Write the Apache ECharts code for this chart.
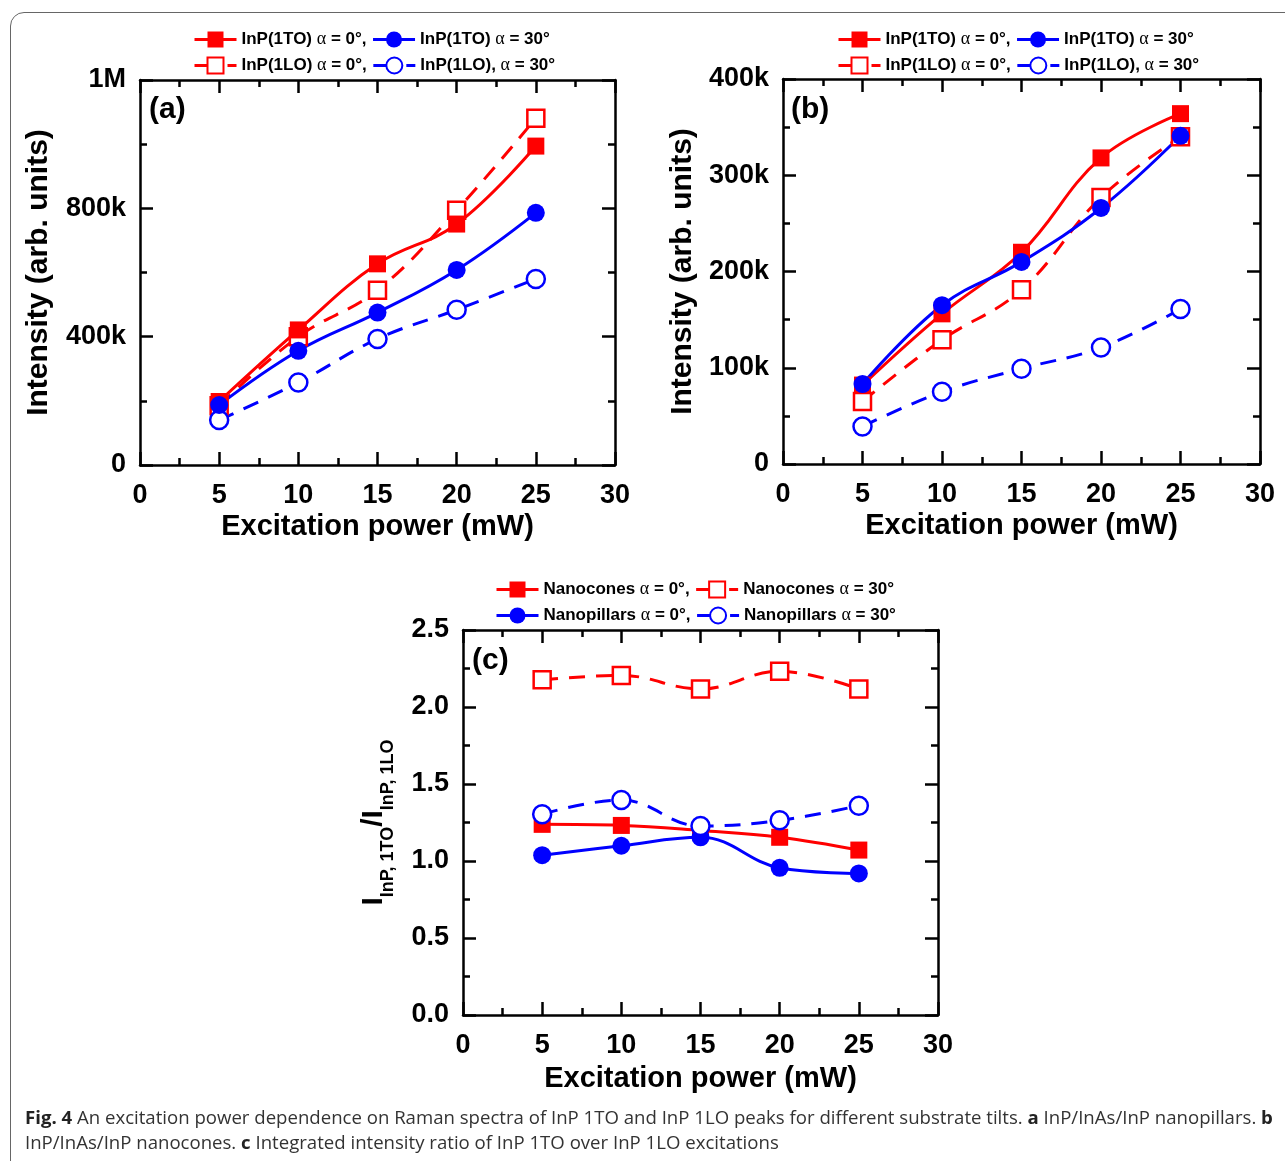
<!DOCTYPE html>
<html><head><meta charset="utf-8">
<script src="https://cdn.jsdelivr.net/npm/echarts@6/dist/echarts.min.js"></script>
<style>
html,body{margin:0;padding:0;background:#fff;}
#frame{position:absolute;left:10px;top:12px;width:1300px;height:1200px;border:1.5px solid #666;border-radius:14px;box-sizing:border-box;}
#chart{position:absolute;left:0;top:0;width:1285px;height:1161px;}
</style></head><body>
<div id="frame"></div>
<div id="chart"></div>
<script>
// ---------- data ----------
const power = [5, 10, 15, 20, 25];
// (a) InP/InAs/InP nanopillars
const a_TO_0  = [198000, 421000, 627000, 751000, 994000];
const a_LO_0  = [185000, 400000, 545000, 794000, 1081000];
const a_TO_30 = [187000, 356000, 475000, 608000, 786000];
const a_LO_30 = [140000, 257000, 393000, 484000, 580000];
// (b) InP/InAs/InP nanocones
const b_TO_0  = [82000, 156000, 220000, 318000, 364000];
const b_LO_0  = [65000, 129000, 181000, 277000, 340000];
const b_TO_30 = [83000, 165000, 210000, 266000, 341000];
const b_LO_30 = [39000, 75000, 99000, 121000, 161000];
// (c) ratio I(1TO)/I(1LO)
const c_cones_0  = [1.238, 1.231, 1.198, 1.154, 1.071];
const c_cones_30 = [2.177, 2.205, 2.117, 2.232, 2.117];
const c_pill_0   = [1.038, 1.099, 1.154, 0.956, 0.919];
const c_pill_30  = [1.304, 1.396, 1.227, 1.264, 1.359];

// tick labels
const xTicks = [0, 5, 10, 15, 20, 25, 30];
const xTickLabels = ['0', '5', '10', '15', '20', '25', '30'];
const yTicksA = [0, 400000, 800000, 1200000];
const yTickLabelsA = ['0', '400k', '800k', '1M'];
const yTicksB = [0, 100000, 200000, 300000, 400000];
const yTickLabelsB = ['0', '100k', '200k', '300k', '400k'];
const yTicksC = [0, 0.5, 1.0, 1.5, 2.0, 2.5];
const yTickLabelsC = ['0.0', '0.5', '1.0', '1.5', '2.0', '2.5'];

// legend names
const namesAB = ['InP(1TO) α = 0°,', 'InP(1TO) α = 30°', 'InP(1LO) α = 0°,', 'InP(1LO), α = 30°'];
const namesC = ['Nanocones α = 0°,', 'Nanocones α = 30°', 'Nanopillars α = 0°,', 'Nanopillars α = 30°'];
const dashedAB = [false, false, true, true];
const dashedC = [false, true, false, true];

// ---------- styling ----------
const FONT = '"Liberation Sans", Arial, sans-serif';
const RED = '#ff0000', BLUE = '#0000ff';
const AX_W = 2.5;

function lookup(ticks, labels) {
  return function (v) {
    for (let i = 0; i < ticks.length; i++) if (Math.abs(ticks[i] - v) < 1e-9 * Math.max(1, Math.abs(v))) return labels[i];
    return '';
  };
}

function xAxes(g, nameGap) {
  const common = {
    gridIndex: g, type: 'value', min: 0, max: 30, interval: 5,
    axisLine: { onZero: false, lineStyle: { color: '#000', width: AX_W } },
    axisTick: { inside: true, length: 13, lineStyle: { color: '#000', width: AX_W } },
    minorTick: { show: true, splitNumber: 2, length: 7, lineStyle: { color: '#000', width: AX_W } },
    splitLine: { show: false }
  };
  return [
    Object.assign({}, common, {
      position: 'bottom',
      axisLabel: { show: true, margin: 17, color: '#000', fontSize: 27, fontWeight: 'bold', fontFamily: FONT,
        showMinLabel: true, showMaxLabel: true, formatter: lookup(xTicks, xTickLabels) },
      name: 'Excitation power (mW)', nameLocation: 'middle', nameGap: nameGap,
      nameTextStyle: { color: '#000', fontSize: 29, fontWeight: 'bold', fontFamily: FONT }
    }),
    Object.assign({}, common, { position: 'top', axisLabel: { show: false } })
  ];
}

function yAxes(g, max, interval, ticks, labels, name, nameGap, nameStyle) {
  const common = {
    gridIndex: g, type: 'value', min: 0, max: max, interval: interval,
    axisLine: { onZero: false, lineStyle: { color: '#000', width: AX_W } },
    axisTick: { inside: true, length: 13, lineStyle: { color: '#000', width: AX_W } },
    minorTick: { show: true, splitNumber: 2, length: 7, lineStyle: { color: '#000', width: AX_W } },
    splitLine: { show: false }
  };
  return [
    Object.assign({}, common, {
      position: 'left',
      axisLabel: { show: true, margin: 14, color: '#000', fontSize: 27, fontWeight: 'bold', fontFamily: FONT,
        showMinLabel: true, showMaxLabel: true, formatter: lookup(ticks, labels) },
      name: name, nameLocation: 'middle', nameGap: nameGap, nameRotate: 90,
      nameTextStyle: nameStyle
    }),
    Object.assign({}, common, { position: 'right', axisLabel: { show: false } })
  ];
}

function line(name, values, color, filled, symbol, dashed, axisIdx) {
  return {
    type: 'line', name: name,
    xAxisIndex: axisIdx, yAxisIndex: axisIdx,
    data: power.map((x, i) => [x, values[i]]),
    symbol: symbol, symbolSize: symbol === 'circle' ? 18 : 17,
    smooth: 0.4,
    lineStyle: { color: color, width: 3, type: dashed ? [16, 11] : 'solid' },
    itemStyle: { color: filled ? color : '#ffffff', borderColor: color, borderWidth: filled ? 0 : 2.5 },
    emphasis: { disabled: true },
    animation: false
  };
}

function legendItem(name, dashed) {
  return { name: name, lineStyle: { width: 3, type: dashed ? [29, 4, 9, 0] : 'solid' } };
}

function legend(names, dashed, left, top) {
  return {
    left: left, top: top, padding: 0, orient: 'horizontal',
    itemWidth: 42, itemHeight: 20, itemGap: 5,
    data: [legendItem(names[0], dashed[0]), legendItem(names[1], dashed[1]), '\n',
           legendItem(names[2], dashed[2]), legendItem(names[3], dashed[3])],
    textStyle: { color: '#000', fontSize: 17, fontWeight: 'bold', fontFamily: FONT, lineHeight: 21,
      rich: { g: { fontSize: 18, fontWeight: 'normal', fontFamily: '"Liberation Serif", "DejaVu Serif", serif', lineHeight: 21, color: '#000' } } },
    formatter: n => n.replace('α', '{g|α}'),
    selectedMode: false
  };
}

const yNameStyle = { color: '#000', fontSize: 30, fontWeight: 'bold', fontFamily: FONT };
const yNameStyleC = {
  color: '#000', fontFamily: FONT, fontWeight: 'bold',
  rich: {
    m: { fontSize: 30, fontWeight: 'bold', fontFamily: FONT, color: '#000', lineHeight: 38, verticalAlign: 'top' },
    s: { fontSize: 18, fontWeight: 'bold', fontFamily: FONT, color: '#000', lineHeight: 38, verticalAlign: 'bottom' }
  }
};

const xa = [].concat(xAxes(0, 47), xAxes(1, 47), xAxes(2, 49));
const ya = [].concat(
  yAxes(0, 1200000, 400000, yTicksA, yTickLabelsA, 'Intensity (arb. units)', 86, yNameStyle),
  yAxes(1, 400000, 100000, yTicksB, yTickLabelsB, 'Intensity (arb. units)', 85, yNameStyle),
  yAxes(2, 2.5, 0.5, yTicksC, yTickLabelsC, '{m|I}{s|InP, 1TO}{m|/I}{s|InP, 1LO}', 66, yNameStyleC)
);
// axis index pairs: grid a uses x0/y0 ; grid b x2/y2 ; grid c x4/y4
const series = [
  line(namesAB[2], a_LO_0, RED, false, 'rect', true, 0),
  line(namesAB[0], a_TO_0, RED, true, 'rect', false, 0),
  line(namesAB[3], a_LO_30, BLUE, false, 'circle', true, 0),
  line(namesAB[1], a_TO_30, BLUE, true, 'circle', false, 0),

  line(namesAB[2], b_LO_0, RED, false, 'rect', true, 2),
  line(namesAB[0], b_TO_0, RED, true, 'rect', false, 2),
  line(namesAB[3], b_LO_30, BLUE, false, 'circle', true, 2),
  line(namesAB[1], b_TO_30, BLUE, true, 'circle', false, 2),

  line(namesC[1], c_cones_30, RED, false, 'rect', true, 4),
  line(namesC[0], c_cones_0, RED, true, 'rect', false, 4),
  line(namesC[2], c_pill_0, BLUE, true, 'circle', false, 4),
  line(namesC[3], c_pill_30, BLUE, false, 'circle', true, 4)
];

const captionText =
  '{b|Fig. 4} An excitation power dependence on Raman spectra of InP 1TO and InP 1LO peaks for different substrate tilts. {b|a} InP/InAs/InP nanopillars. {b|b}\n' +
  'InP/InAs/InP nanocones. {b|c} Integrated intensity ratio of InP 1TO over InP 1LO excitations';
const CAP_FONT = '"Open Sans", "Noto Sans", sans-serif';

const option = {
  backgroundColor: 'transparent',
  animation: false,
  grid: [
    { left: 140, top: 80, width: 475, height: 385, show: false },
    { left: 783, top: 79, width: 477, height: 385, show: false },
    { left: 463, top: 630, width: 475, height: 385, show: false }
  ],
  xAxis: xa,
  yAxis: ya,
  legend: [legend(namesAB, dashedAB, 193, 29), legend(namesAB, dashedAB, 837, 29), legend(namesC, dashedC, 495, 579)],
  title: [
    { text: '(a)', left: 149, top: 95, padding: 0, textStyle: { fontSize: 30, fontWeight: 'bold', fontFamily: FONT, color: '#000' } },
    { text: '(b)', left: 791, top: 95, padding: 0, textStyle: { fontSize: 30, fontWeight: 'bold', fontFamily: FONT, color: '#000' } },
    { text: '(c)', left: 472, top: 646, padding: 0, textStyle: { fontSize: 30, fontWeight: 'bold', fontFamily: FONT, color: '#000' } },
    { text: captionText, left: 25, top: 1106, padding: 0,
      textStyle: { fontSize: 18.6, fontWeight: 'normal', fontFamily: CAP_FONT, color: '#333', lineHeight: 25,
        rich: { b: { fontSize: 18.6, fontWeight: 'bold', fontFamily: CAP_FONT, color: '#222', lineHeight: 25 } } } }
  ],
  series: series
};

const chart = echarts.init(document.getElementById('chart'), null, { renderer: 'canvas' });
chart.setOption(option);
</script>
</body></html>
